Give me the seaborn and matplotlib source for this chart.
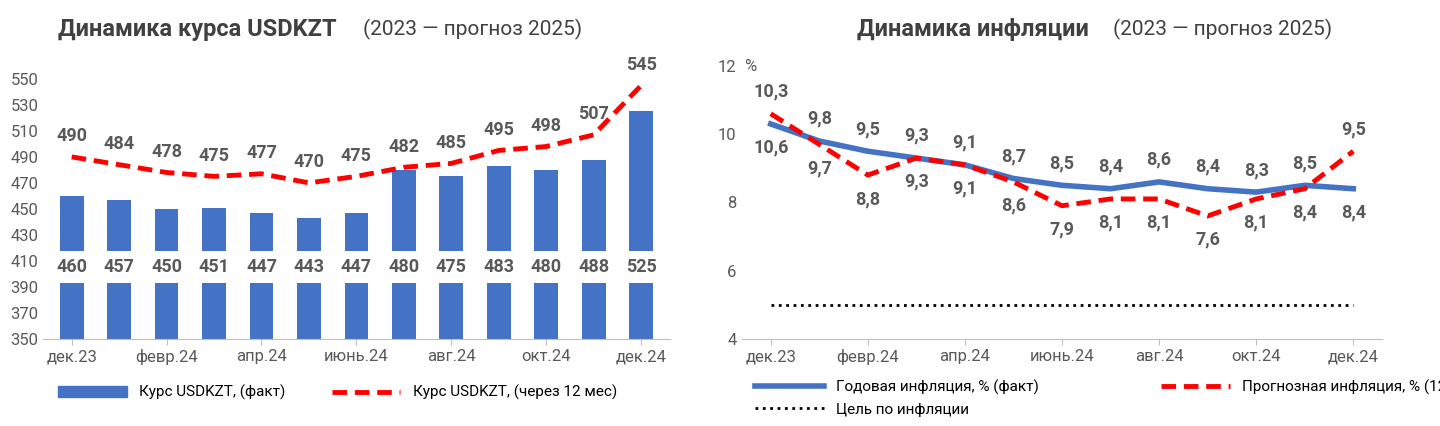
import matplotlib
matplotlib.use("Agg")
import matplotlib.pyplot as plt
import seaborn as sns
import pandas as pd
from matplotlib.lines import Line2D
from matplotlib.patches import Patch

plt.rcParams["font.family"] = ["Roboto", "DejaVu Sans"]

months = ["дек.23","янв.24","февр.24","март.24","апр.24","май.24","июнь.24","июль.24","авг.24","сент.24","окт.24","нояб.24","дек.24"]
usd_fact = [460,457,450,451,447,443,447,480,475,483,480,488,525]
usd_fc = [490,484,478,475,477,470,475,482,485,495,498,507,545]
infl_fact = [10.3,9.8,9.5,9.3,9.1,8.7,8.5,8.4,8.6,8.4,8.3,8.5,8.4]
infl_fc = [10.6,9.7,8.8,9.3,9.1,8.6,7.9,8.1,8.1,7.6,8.1,8.4,9.5]
target = [5]*13

BLUE = "#4472C4"; RED = "#FF0000"; GREY = "#595959"
fig = plt.figure(figsize=(14.4, 4.26), dpi=100)
ax1 = fig.add_axes([0.03, 0.205, 0.435, 0.64])
ax2 = fig.add_axes([0.515, 0.205, 0.445, 0.64])

df1 = pd.DataFrame({"m": months, "fact": usd_fact, "fc": usd_fc, "i": range(13)})
ax1.bar(df1["i"], [v - 350 for v in usd_fact], bottom=350, width=0.5, color=BLUE)
sns.lineplot(data=df1, x="i", y="fc", color=RED, lw=3.5, ax=ax1)
ax1.lines[0].set_dashes((3, 1.6))
ax1.set_ylim(350, 560)
ax1.set_yticks(range(350, 551, 20))
ax1.set_xlim(-0.6, 12.6)
ax1.set_xticks(range(0, 13, 2))
ax1.set_xticklabels(months[::2])
for i, (f, c) in enumerate(zip(usd_fact, usd_fc)):
    ax1.text(i, 405, str(f), ha="center", va="center", fontsize=13, fontweight="bold", color=GREY,
             bbox=dict(fc="white", ec="none", pad=5))
    ax1.text(i, c + 16, str(c), ha="center", va="center", fontsize=13, fontweight="bold", color=GREY)
fig.text(0.04, 0.93, "Динамика курса USDKZT", fontsize=17, fontweight="bold", color="#404040", va="center")
fig.text(0.252, 0.93, "(2023 — прогноз 2025)", fontsize=15, color="#404040", va="center")
ax1.legend(handles=[Patch(color=BLUE), Line2D([], [], color=RED, lw=3.5, dashes=(3, 1.6))],
           labels=["Курс USDKZT, (факт)", "Курс USDKZT, (через 12 мес)"],
           loc="upper center", bbox_to_anchor=(0.47, -0.12), ncol=2, frameon=False, fontsize=11,
           handlelength=4.5, columnspacing=3)

df2 = pd.DataFrame({"i": range(13), "fact": infl_fact, "fc": infl_fc, "t": target})
sns.lineplot(data=df2, x="i", y="fact", color=BLUE, lw=4, ax=ax2)
sns.lineplot(data=df2, x="i", y="fc", color=RED, lw=3.5, ax=ax2)
sns.lineplot(data=df2, x="i", y="t", color="black", lw=2, ax=ax2)
ax2.lines[1].set_dashes((3, 1.6))
ax2.lines[2].set_linestyle(":")
ax2.set_ylim(4, 12)
ax2.set_yticks(range(4, 13, 2))
ax2.set_xlim(-0.6, 12.6)
ax2.set_xticks(range(0, 13, 2))
ax2.set_xticklabels(["" if t == 12 else t for t in []] or months[::2])
ax2.text(-0.55, 12, "%", fontsize=12, color=GREY, va="center")
for i, (f, c) in enumerate(zip(infl_fact, infl_fc)):
    top, bot = (c, f) if c - f > 0.5 else (f, c)
    ax2.text(i, max(f, c) + 0.65, f"{top}".replace(".", ","), ha="center", fontsize=13, fontweight="bold", color=GREY, va="center")
    ax2.text(i, min(f, c) - 0.7, f"{bot}".replace(".", ","), ha="center", fontsize=13, fontweight="bold", color=GREY, va="center")
fig.text(0.595, 0.93, "Динамика инфляции", fontsize=17, fontweight="bold", color="#404040", va="center")
fig.text(0.773, 0.93, "(2023 — прогноз 2025)", fontsize=15, color="#404040", va="center")
ax2.legend(handles=[Line2D([], [], color=BLUE, lw=4), Line2D([], [], color="black", lw=2, ls=":"),
                    Line2D([], [], color=RED, lw=3.5, dashes=(3, 1.6))],
           labels=["Годовая инфляция, % (факт)", "Цель по инфляции", "Прогнозная инфляция, % (12 мес)"],
           loc="upper left", bbox_to_anchor=(0.0, -0.1), ncol=2, frameon=False, fontsize=11,
           handlelength=4.5, columnspacing=8)

for ax in (ax1, ax2):
    ax.set_xlabel(""); ax.set_ylabel("")
    for s in ["top", "right", "left"]:
        ax.spines[s].set_visible(False)
    ax.spines["bottom"].set_color("#BFBFBF")
    ax.tick_params(axis="both", length=0, labelsize=12, colors=GREY)
    ax.tick_params(axis="x", length=4, color="#BFBFBF")
    ax.grid(False)

fig.savefig("out.png", dpi=100)
